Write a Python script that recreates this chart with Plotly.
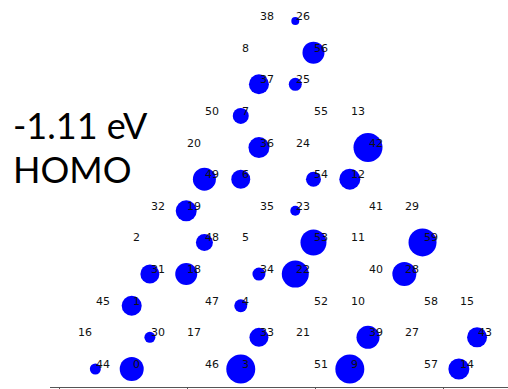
import plotly.graph_objects as go

# ---- data: atom index, coordinates (Angstrom) and orbital amplitude ----
atom_label = list(range(60))
atom_x = [2.84, 2.84, 2.84, 7.10, 7.10, 7.10, 7.10, 7.10, 7.10, 11.36,
          11.36, 11.36, 11.36, 11.36, 15.62, 15.62, 0.71, 4.97, 4.97, 4.97,
          4.97, 9.23, 9.23, 9.23, 9.23, 9.23, 9.23, 13.49, 13.49, 13.49,
          3.55, 3.55, 3.55, 7.81, 7.81, 7.81, 7.81, 7.81, 7.81, 12.07,
          12.07, 12.07, 12.07, 16.33, 1.42, 1.42, 5.68, 5.68, 5.68, 5.68,
          5.68, 9.94, 9.94, 9.94, 9.94, 9.94, 9.94, 14.20, 14.20, 14.20]
atom_y = [0.00, 2.46, 4.92, 0.00, 2.46, 4.92, 7.38, 9.84, 12.30, 0.00,
          2.46, 4.92, 7.38, 9.84, 0.00, 2.46, 1.23, 1.23, 3.69, 6.15,
          8.61, 1.23, 3.69, 6.15, 8.61, 11.07, 13.53, 1.23, 3.69, 6.15,
          1.23, 3.69, 6.15, 1.23, 3.69, 6.15, 8.61, 11.07, 13.53, 1.23,
          3.69, 6.15, 8.61, 1.23, 0.00, 2.46, 0.00, 2.46, 4.92, 7.38,
          9.84, 0.00, 2.46, 4.92, 7.38, 9.84, 12.30, 0.00, 2.46, 4.92]
amplitude = [0.24, 0.20, 0.00, 0.29, 0.13, 0.00, 0.19, 0.16, 0.00, 0.29,
             0.00, 0.00, 0.21, 0.00, 0.21, 0.00, 0.00, 0.00, 0.22, 0.21,
             0.00, 0.00, 0.27, 0.10, 0.00, 0.13, 0.08, 0.00, 0.24, 0.00,
             0.11, 0.19, 0.00, 0.19, 0.13, 0.00, 0.21, 0.20, 0.00, 0.23,
             0.00, 0.00, 0.29, 0.20, 0.11, 0.00, 0.00, 0.00, 0.17, 0.23,
             0.00, 0.00, 0.00, 0.26, 0.15, 0.00, 0.22, 0.00, 0.00, 0.28]
energy_text = "-1.11 eV"
orbital_text = "HOMO"
x_ticks = [0, 5, 10, 15]

SIZE_SCALE = 100.0
W, H = 508, 389

vis = [i for i, a in enumerate(amplitude) if a > 0]

fig = go.Figure()
fig.add_trace(go.Scatter(
    x=[atom_x[i] for i in vis],
    y=[atom_y[i] for i in vis],
    mode="markers",
    marker=dict(size=[amplitude[i] * SIZE_SCALE for i in vis],
                color="#0000ff", line=dict(width=0), opacity=1),
    hoverinfo="skip",
    showlegend=False,
))

annotations = []
for lab, x, y in zip(atom_label, atom_x, atom_y):
    annotations.append(dict(
        x=x, y=y, xref="x", yref="y", text=str(lab), showarrow=False,
        xanchor="left", yanchor="bottom", xshift=-1, yshift=-4,
        font=dict(family="DejaVu Sans", size=11, color="#111111"),
    ))

annotations.append(dict(
    x=11 / W, y=(H - 125) / H, xref="paper", yref="paper", text=energy_text,
    showarrow=False, xanchor="left", yanchor="middle",
    font=dict(family="Lato", size=36, color="#000000"),
))
annotations.append(dict(
    x=11 / W, y=(H - 169) / H, xref="paper", yref="paper", text=orbital_text,
    showarrow=False, xanchor="left", yanchor="middle",
    font=dict(family="Lato", size=36, color="#000000"),
))

fig.update_layout(
    width=W, height=H,
    margin=dict(l=0, r=0, t=0, b=0, pad=0),
    paper_bgcolor="white", plot_bgcolor="white",
    annotations=annotations,
    xaxis=dict(domain=[50 / W, 1], range=[-0.3516, 17.539],
               automargin=False,
               showgrid=False, zeroline=False, showline=True,
               linecolor="#555555", linewidth=1, ticks="outside",
               tickvals=x_ticks, ticklen=6, tickcolor="#555555",
               showticklabels=False, fixedrange=True),
    yaxis=dict(domain=[2 / H, 1], range=[-0.700, 14.347],
               automargin=False,
               visible=False, showgrid=False, zeroline=False, fixedrange=True),
)

fig.write_html("out.html",
               config={"displayModeBar": False, "staticPlot": True},
               post_script="document.body.style.margin='0';"
                           "document.body.style.overflow='hidden';")
